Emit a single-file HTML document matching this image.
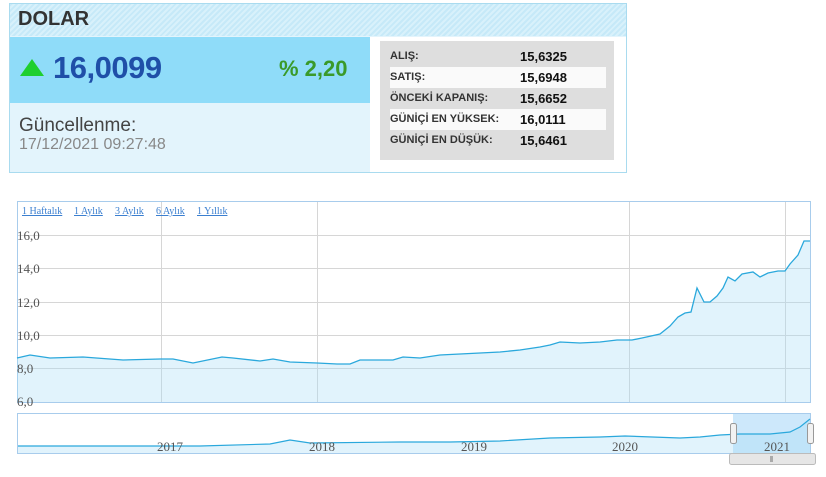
<!DOCTYPE html>
<html><head><meta charset="utf-8"><style>
body{margin:0;width:826px;height:477px;background:#fff;position:relative;overflow:hidden;font-family:"Liberation Sans",sans-serif}
.a{position:absolute}
.row{position:absolute;left:390px;width:216px;height:21px;font-size:11px;font-weight:bold;color:#333;line-height:21px}
.row b{position:absolute;left:130px;font-size:13px;color:#111}
</style></head><body>
<div class="a" style="left:9px;top:3px;width:616px;height:168px;border:1px solid #a9dbef;background:#e3f4fc"></div>
<div class="a" style="left:10px;top:4px;width:616px;height:32px;background:repeating-linear-gradient(135deg,#c6e9f8 0 2px,#d8f1fb 2px 4px)"></div>
<div class="a" style="left:18px;top:8px;font-size:20px;font-weight:bold;color:#333">DOLAR</div>
<div class="a" style="left:10px;top:37px;width:360px;height:66px;background:#8fdcf9"></div>
<div class="a" style="left:20px;top:59px;width:0;height:0;border-left:12px solid transparent;border-right:12px solid transparent;border-bottom:17px solid #1fcf2f"></div>
<div class="a" style="left:53px;top:50px;font-size:31px;font-weight:bold;color:#1f4fa8;letter-spacing:-0.5px">16,0099</div>
<div class="a" style="left:279px;top:56px;font-size:22px;font-weight:bold;color:#3a9a2a">% 2,20</div>
<div class="a" style="left:19px;top:115px;font-size:19px;color:#444">Güncellenme:</div>
<div class="a" style="left:19px;top:136px;font-size:16px;color:#888">17/12/2021 09:27:48</div>
<div class="a" style="left:370px;top:37px;width:256px;height:135px;background:#fff"></div>
<div class="a" style="left:380px;top:41px;width:234px;height:119px;background:#dedede"></div>
<div class="row" style="top:46px">ALIŞ:<b>15,6325</b></div>
<div class="row" style="top:67px;background:#fafafa">SATIŞ:<b>15,6948</b></div>
<div class="row" style="top:88px">ÖNCEKİ KAPANIŞ:<b>15,6652</b></div>
<div class="row" style="top:109px;background:#fafafa">GÜNİÇİ EN YÜKSEK:<b>16,0111</b></div>
<div class="row" style="top:130px">GÜNİÇİ EN DÜŞÜK:<b>15,6461</b></div>

<svg class="a" style="left:0;top:0" width="826" height="477" font-family="Liberation Serif, serif">
<rect x="17.5" y="201.5" width="793" height="201" fill="#fff" stroke="#a8ccec"/>
<g stroke="#d6d6d6">
<line x1="18" x2="810" y1="235.5" y2="235.5"/><line x1="18" x2="810" y1="268.5" y2="268.5"/>
<line x1="18" x2="810" y1="302.5" y2="302.5"/><line x1="18" x2="810" y1="335.5" y2="335.5"/>
<line x1="18" x2="810" y1="368.5" y2="368.5"/>
<line x1="161.5" x2="161.5" y1="202" y2="402"/><line x1="317.5" x2="317.5" y1="202" y2="402"/>
<line x1="629.5" x2="629.5" y1="202" y2="402"/><line x1="785.5" x2="785.5" y1="202" y2="402"/>
</g>
<polygon fill="rgba(170,220,245,0.35)" stroke="none" points="17,402 17,358 30,355 50,358 83,357 123,360 160,359 173,359 193,363 222,357 233,358 260,361 273,359 290,362 317,363 337,364 350,364 360,360 393,360 403,357 420,358 440,355 460,354 480,353 500,352 520,350 540,347 550,345 560,342 580,343 600,342 617,340 632,340 642,338 660,334 670,326 678,317 685,313 691,312 697,288 704,302 710,302 717,296 723,288 728,277 735,281 742,274 753,272 760,277 768,273 778,271 785,271 790,264 798,255 804,241 810,241 810,402"/>
<polyline fill="none" stroke="#2aa8dc" stroke-width="1.3" points="17,358 30,355 50,358 83,357 123,360 160,359 173,359 193,363 222,357 233,358 260,361 273,359 290,362 317,363 337,364 350,364 360,360 393,360 403,357 420,358 440,355 460,354 480,353 500,352 520,350 540,347 550,345 560,342 580,343 600,342 617,340 632,340 642,338 660,334 670,326 678,317 685,313 691,312 697,288 704,302 710,302 717,296 723,288 728,277 735,281 742,274 753,272 760,277 768,273 778,271 785,271 790,264 798,255 804,241 810,241"/>
<g fill="#555" font-size="13">
<text x="17" y="240">16,0</text><text x="17" y="273">14,0</text><text x="17" y="307">12,0</text>
<text x="17" y="340">10,0</text><text x="17" y="373">8,0</text><text x="17" y="406">6,0</text>
</g>
<g fill="#3b7fd0" font-size="10" text-decoration="underline">
<text x="22" y="214">1 Haftalık</text><text x="74" y="214">1 Aylık</text><text x="115" y="214">3 Aylık</text><text x="156" y="214">6 Aylık</text><text x="197" y="214">1 Yıllık</text>
</g>
<rect x="17.5" y="413.5" width="793" height="40" fill="#fff" stroke="#a8ccec"/>
<rect x="733" y="414" width="77" height="39" fill="#cde8fb"/>
<polygon fill="rgba(170,220,245,0.35)" points="18,453 18,446 100,446 200,446 270,444 290,440 310,443 400,442 450,442 500,441 550,438 600,437 625,436 680,438 700,437 720,435 740,434 770,434 790,432 800,427 810,419 810,453"/>
<polyline fill="none" stroke="#2aa8dc" stroke-width="1.2" points="18,446 100,446 200,446 270,444 290,440 310,443 400,442 450,442 500,441 550,438 600,437 625,436 680,438 700,437 720,435 740,434 770,434 790,432 800,427 810,419"/>
<g fill="#555" font-size="13" text-anchor="middle">
<text x="170" y="451">2017</text><text x="322" y="451">2018</text><text x="474" y="451">2019</text><text x="625" y="451">2020</text><text x="777" y="451">2021</text>
</g>
<rect x="730.5" y="423.5" width="6" height="20" rx="2" fill="#f2f2f2" stroke="#999"/>
<rect x="807.5" y="423.5" width="6" height="20" rx="2" fill="#f2f2f2" stroke="#999"/>
<rect x="729.5" y="453.5" width="86" height="11" rx="2" fill="#e6e6e6" stroke="#bbb"/>
<rect x="770" y="456" width="3" height="6" fill="#aaa"/>
</svg>
</body></html>
